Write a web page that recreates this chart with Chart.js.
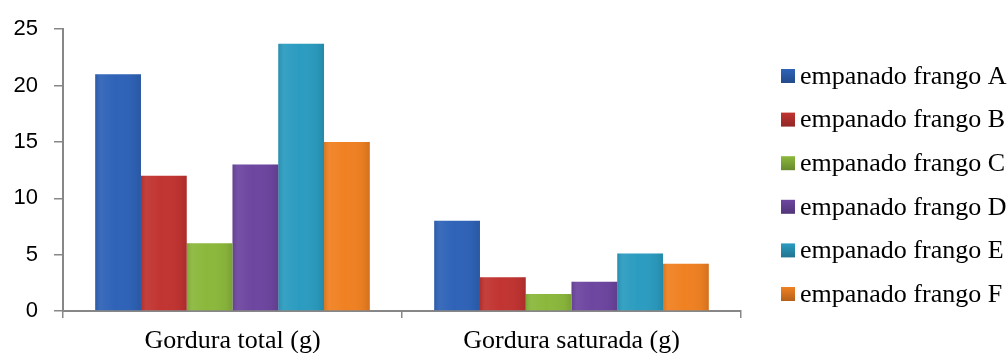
<!DOCTYPE html>
<html>
<head>
<meta charset="utf-8">
<script src="https://cdn.jsdelivr.net/npm/chart.js@4/dist/chart.umd.min.js"></script>
<style>
  html, body { margin: 0; padding: 0; background: #ffffff; }
  #wrap { width: 1008px; height: 353px; position: relative; }
</style>
</head>
<body>
<div id="wrap"><canvas id="c" width="1008" height="353"></canvas></div>
<script>
// Nutrient categories on the x axis
const categories = ['Gordura total (g)', 'Gordura saturada (g)'];

// One series per breaded chicken product
const seriesNames = [
  'empanado frango A', 'empanado frango B', 'empanado frango C',
  'empanado frango D', 'empanado frango E', 'empanado frango F'
];
const valuesA = [21, 8];
const valuesB = [12, 3];
const valuesC = [6, 1.5];
const valuesD = [13, 2.6];
const valuesE = [23.7, 5.1];
const valuesF = [15, 4.2];

const yTicks = [0, 5, 10, 15, 20, 25];

const seriesColors = ['#2f63b8', '#c13431', '#8bb83c', '#6d46a0', '#2b9cc0', '#f08122'];

const seriesValues = [valuesA, valuesB, valuesC, valuesD, valuesE, valuesF];

const datasets = seriesNames.map((name, i) => ({
  label: name,
  data: seriesValues[i],
  backgroundColor: seriesColors[i],
  borderWidth: 0,
  barPercentage: 1.0,
  categoryPercentage: 0.81
}));

// Soft horizontal shading on each bar, giving a rounded, glossy look
const barShading = {
  id: 'barShading',
  afterDatasetsDraw(chart) {
    const ctx = chart.ctx;
    ctx.save();
    chart.data.datasets.forEach((ds, di) => {
      const meta = chart.getDatasetMeta(di);
      meta.data.forEach(bar => {
        const left = bar.x - bar.width / 2;
        const right = bar.x + bar.width / 2;
        const top = Math.min(bar.y, bar.base);
        const h = Math.abs(bar.base - bar.y);
        const g = ctx.createLinearGradient(left, 0, right, 0);
        g.addColorStop(0, 'rgba(0,0,0,0.10)');
        g.addColorStop(0.12, 'rgba(255,255,255,0.06)');
        g.addColorStop(0.45, 'rgba(255,255,255,0.0)');
        g.addColorStop(0.85, 'rgba(0,0,0,0.04)');
        g.addColorStop(1, 'rgba(0,0,0,0.12)');
        ctx.fillStyle = g;
        ctx.fillRect(left, top, bar.width, h);
      });
    });
    ctx.restore();
  }
};

// Legend column to the right of the plot area
const sideLegend = {
  id: 'sideLegend',
  afterDraw(chart) {
    const ctx = chart.ctx;
    const area = chart.chartArea;
    const boxX = area.right + 40;
    const box = 14;
    const textX = boxX + box + 5;
    const firstY = 76;
    const step = 43.6;
    ctx.save();
    ctx.font = '26px "Liberation Serif", "Times New Roman", serif';
    ctx.textBaseline = 'middle';
    ctx.textAlign = 'left';
    chart.data.datasets.forEach((ds, i) => {
      const cy = firstY + i * step;
      const g = ctx.createLinearGradient(0, cy - box / 2, 0, cy + box / 2);
      g.addColorStop(0, ds.backgroundColor);
      g.addColorStop(1, shade(ds.backgroundColor, -0.25));
      ctx.fillStyle = g;
      ctx.fillRect(boxX, cy - box / 2, box, box);
      ctx.fillStyle = '#000000';
      ctx.fillText(ds.label, textX, cy + 1);
    });
    ctx.restore();
  }
};

function shade(hex, amt) {
  const n = parseInt(hex.slice(1), 16);
  let r = (n >> 16) & 255, g = (n >> 8) & 255, b = n & 255;
  r = Math.round(r * (1 + amt)); g = Math.round(g * (1 + amt)); b = Math.round(b * (1 + amt));
  return 'rgb(' + r + ',' + g + ',' + b + ')';
}

const axisGray = '#878787';

new Chart(document.getElementById('c'), {
  type: 'bar',
  data: { labels: categories, datasets: datasets },
  options: {
    responsive: false,
    animation: false,
    devicePixelRatio: 1,
    layout: { padding: { top: 25, right: 267, bottom: 0, left: 0 } },
    plugins: {
      legend: { display: false },
      tooltip: { enabled: false }
    },
    scales: {
      x: {
        grid: {
          offset: true,
          drawOnChartArea: false,
          drawTicks: true,
          tickLength: 7,
          color: axisGray,
          lineWidth: 1.5
        },
        border: { color: axisGray, width: 2 },
        ticks: {
          color: '#000000',
          padding: 8,
          font: { family: '"Liberation Serif", "Times New Roman", serif', size: 26 }
        },
        afterFit(scale) { scale.height = 42; }
      },
      y: {
        min: 0,
        max: 25,
        afterBuildTicks(scale) { scale.ticks = yTicks.map(v => ({ value: v })); },
        grid: {
          drawOnChartArea: false,
          drawTicks: true,
          tickLength: 9,
          color: axisGray,
          lineWidth: 1.5
        },
        border: { color: axisGray, width: 2 },
        ticks: {
          color: '#000000',
          padding: 16,
          font: { family: '"Liberation Sans", Arial, sans-serif', size: 22 }
        },
        afterFit(scale) { scale.width = 63; }
      }
    }
  },
  plugins: [barShading, sideLegend]
});
</script>
</body>
</html>
